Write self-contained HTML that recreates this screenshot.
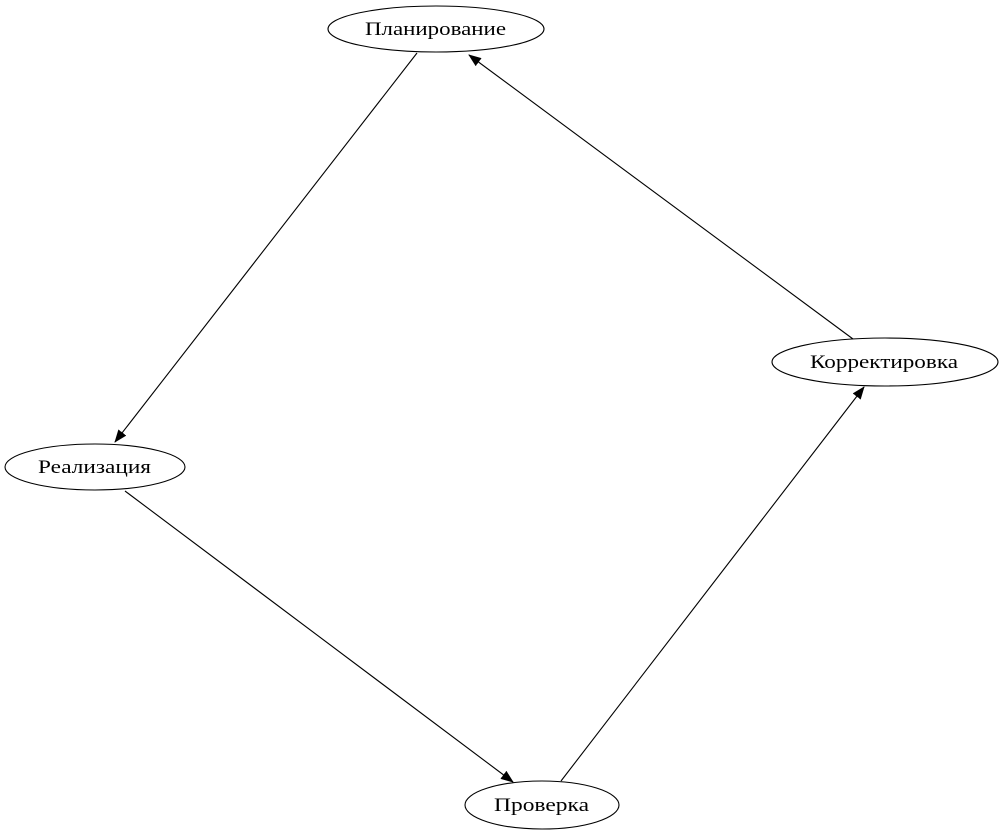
<!DOCTYPE html>
<html><head><meta charset="utf-8"><style>html,body{margin:0;padding:0;background:#fff;}svg{display:block}</style></head>
<body>
<svg width="1003" height="835" viewBox="0 0 1003 835" xmlns="http://www.w3.org/2000/svg" font-family="'Liberation Serif', serif" font-size="19">
<defs>
<marker id="a" markerWidth="13" markerHeight="10" refX="12" refY="5" orient="auto" markerUnits="userSpaceOnUse">
<path d="M0,0 L13,5 L0,10 Z" fill="#000"/>
</marker>
</defs>
<g fill="none" stroke="#000" stroke-width="1.1">
<ellipse cx="436" cy="29" rx="108" ry="23"/>
<ellipse cx="885" cy="362" rx="113" ry="24"/>
<ellipse cx="95" cy="467" rx="90" ry="23"/>
<ellipse cx="542" cy="805" rx="77" ry="24"/>
<line x1="417" y1="53" x2="115" y2="442" marker-end="url(#a)"/>
<line x1="125" y1="491" x2="513" y2="782" marker-end="url(#a)"/>
<line x1="561" y1="781" x2="864" y2="387" marker-end="url(#a)"/>
<line x1="853" y1="339" x2="469" y2="55" marker-end="url(#a)"/>
</g>
<g fill="#000">
<text x="365" y="35" textLength="141" lengthAdjust="spacingAndGlyphs">Планирование</text>
<text x="810" y="368" textLength="148" lengthAdjust="spacingAndGlyphs">Корректировка</text>
<text x="38" y="473" textLength="113" lengthAdjust="spacingAndGlyphs">Реализация</text>
<text x="494" y="811" textLength="95" lengthAdjust="spacingAndGlyphs">Проверка</text>
</g>
</svg>
</body></html>
